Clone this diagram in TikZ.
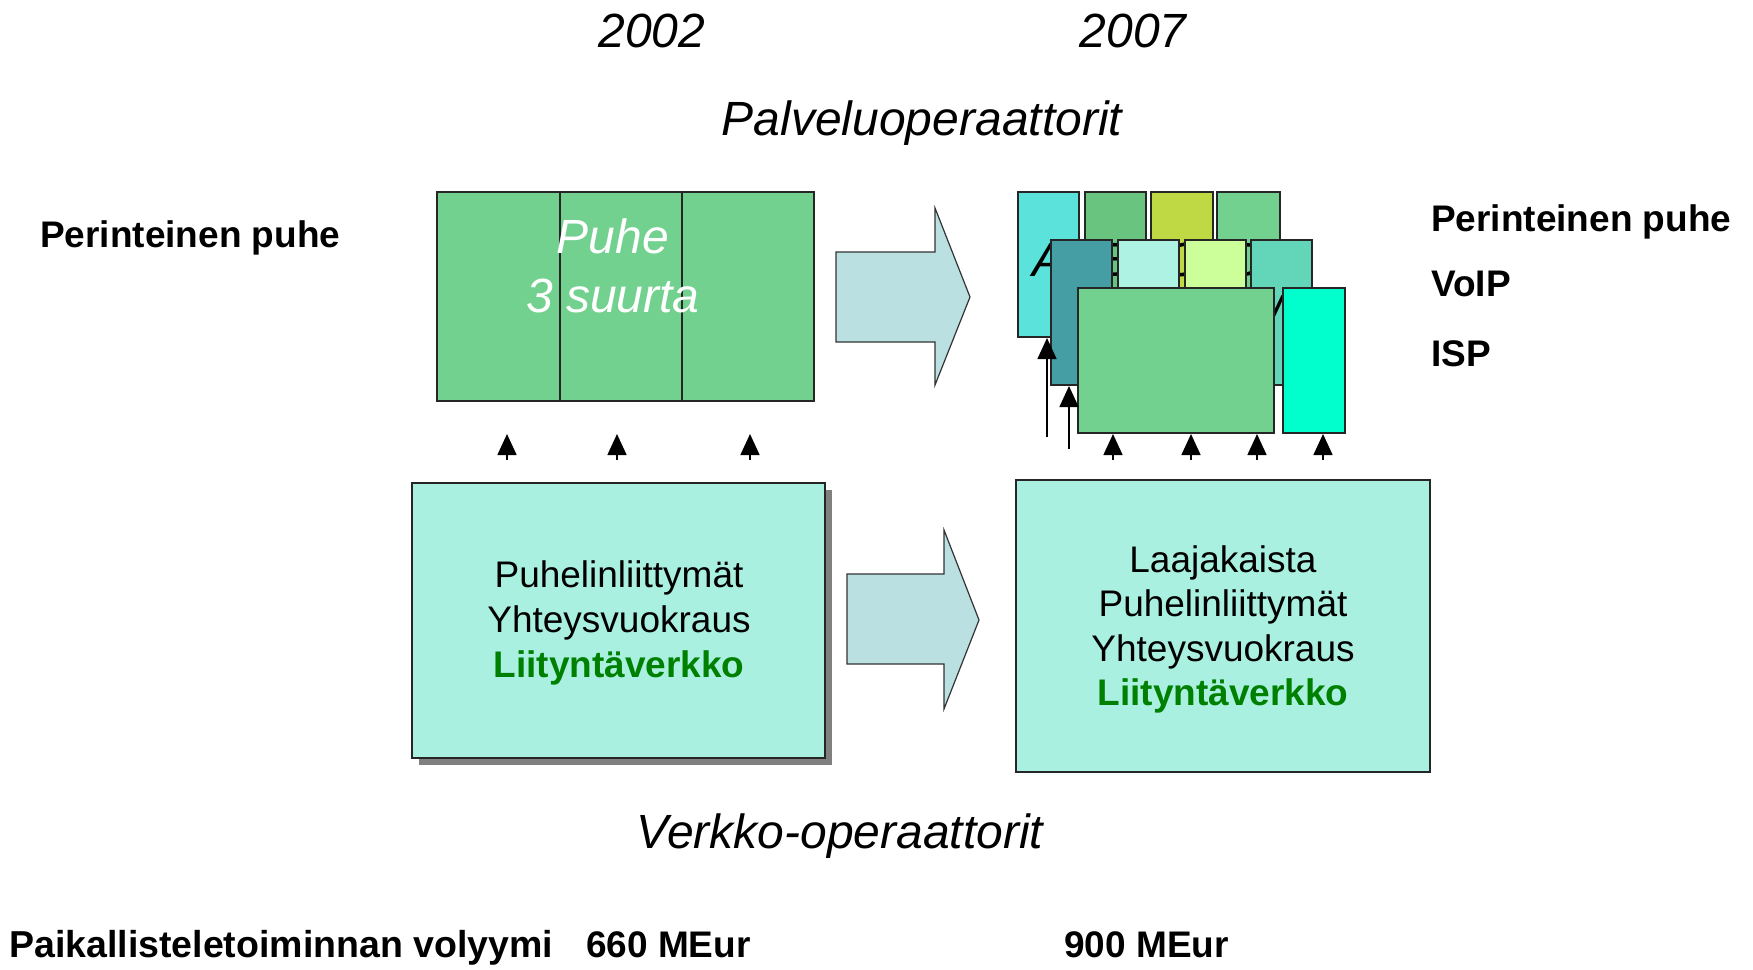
\documentclass[tikz,border=0pt]{standalone}
\usepackage{fontspec}
\setmainfont{Liberation Sans}
\usetikzlibrary{arrows.meta}
\definecolor{cGreen}{HTML}{72D18F}
\definecolor{cPale}{HTML}{AAF0E0}
\definecolor{cArrow}{HTML}{BAE0E2}
\definecolor{cA}{HTML}{5BE3DB}
\definecolor{cB}{HTML}{69C47F}
\definecolor{cC}{HTML}{BFD944}
\definecolor{cE}{HTML}{459EA3}
\definecolor{cF}{HTML}{ADF2E2}
\definecolor{cG}{HTML}{CCFF99}
\definecolor{cH}{HTML}{63D6BA}
\definecolor{cJ}{HTML}{00FFCC}
\definecolor{cText}{HTML}{008000}
\definecolor{cShadow}{HTML}{808080}
\tikzset{
  blk/.style={draw=black!85, line width=1.5pt, anchor=north west, inner sep=0pt, outer sep=0pt},
  big/.style={font=\fontsize{48}{58}\selectfont\itshape, inner sep=0pt, anchor=base},
  lbl/.style={font=\fontsize{37}{45}\selectfont\bfseries, inner sep=0pt, anchor=base west},
  txt/.style={font=\fontsize{37}{45}\selectfont, inner sep=0pt, anchor=base},
  bigarrow/.style={draw=black!80, line width=1.2pt, fill=cArrow},
  uparrow/.style={line width=1.5pt, -{Triangle[width=19pt,length=21pt]}}
}
\begin{document}
\begin{tikzpicture}[x=1pt,y=-1pt]
\useasboundingbox[fill=white] (0,0) rectangle (1753,969);

% headings
\node[big] (y2002) at (652,47) {2002};
\node[big] (y2007) at (1133,47) {2007};
\node[big] (palv) at (922,135) {Palveluoperaattorit};
\node[big] (verk) at (840,848) {Verkko-operaattorit};

% side labels
\node[lbl] (perL) at (40,247) {Perinteinen puhe};
\node[lbl] (perR) at (1431,231.5) {Perinteinen puhe};
\node[lbl] (voip) at (1431,296) {VoIP};
\node[lbl] (isp) at (1431,366) {ISP};

% bottom line
\node[lbl, font=\fontsize{37.5}{45}\selectfont\bfseries] (vol) at (9,957) {Paikallisteletoiminnan volyymi};
\node[lbl] (m660) at (586,957) {660 MEur};
\node[lbl] (m900) at (1064,957) {900 MEur};

% 2002 top: three speech boxes
\node[blk, fill=cGreen, minimum width=135pt, minimum height=209pt] (p1) at (437,192) {};
\node[blk, fill=cGreen, minimum width=134pt, minimum height=209pt] (p2) at (560,192) {};
\node[blk, fill=cGreen, minimum width=132pt, minimum height=209pt] (p3) at (682,192) {};
\node[big, text=white] (puhe1) at (613,253) {Puhe};
\node[big, text=white] (puhe2) at (613,312) {3 suurta};

% top big arrow
\draw[bigarrow] (836,252) -- (935,252) -- (935,208) -- (970,297) -- (935,385) -- (935,342) -- (836,342) -- cycle;

% 2007 top: stacked boxes, back row
\node[blk, fill=cA, minimum width=61pt, minimum height=145pt] (bA) at (1018,192) {};
\node[blk, fill=cB, minimum width=61pt, minimum height=145pt] (bB) at (1085,192) {};
\node[blk, fill=cC, minimum width=62pt, minimum height=145pt] (bC) at (1151,192) {};
\node[blk, fill=cGreen, minimum width=63pt, minimum height=145pt] (bD) at (1217,192) {};
\node[big] (tA) at (1048,276) {A};
\node[big] (tB) at (1115,276) {B};
\node[big] (tC) at (1182,276) {C};
\node[big] (tD) at (1248,276) {D};
% middle row
\node[blk, fill=cE, minimum width=61pt, minimum height=145pt] (bE) at (1051,240) {};
\node[blk, fill=cF, minimum width=61pt, minimum height=145pt] (bF) at (1118,240) {};
\node[blk, fill=cG, minimum width=61pt, minimum height=145pt] (bG) at (1185,240) {};
\node[blk, fill=cH, minimum width=61pt, minimum height=145pt] (bH) at (1251,240) {};
\node[big] (tH) at (1280,328) {W};
% front row
\node[blk, fill=cGreen, minimum width=196pt, minimum height=145pt] (bI) at (1078,288) {};
\node[blk, fill=cJ, minimum width=62pt, minimum height=145pt] (bJ) at (1283,288) {};

% lower left box with shadow
\fill[cShadow] (419,490) rectangle (832,765);
\node[blk, fill=cPale, minimum width=413pt, minimum height=275pt] (netL) at (412,483) {};
\node[txt] (l1) at (619,587) {Puhelinliittymät};
\node[txt] (l2) at (619,632) {Yhteysvuokraus};
\node[txt, font=\fontsize{37}{45}\selectfont\bfseries, text=cText] (l3) at (619,677) {Liityntäverkko};

% lower arrow
\draw[bigarrow] (847,574) -- (944,574) -- (944,530) -- (979,620) -- (944,709) -- (944,664) -- (847,664) -- cycle;

% lower right box
\node[blk, fill=cPale, minimum width=414pt, minimum height=292pt] (netR) at (1016,480) {};
\node[txt] (r1) at (1223,572) {Laajakaista};
\node[txt] (r2) at (1223,616) {Puhelinliittymät};
\node[txt] (r3) at (1223,661) {Yhteysvuokraus};
\node[txt, font=\fontsize{37}{45}\selectfont\bfseries, text=cText] (r4) at (1223,705) {Liityntäverkko};

% small up arrows, 2002
\coordinate (s1) at (507,460); \coordinate (e1) at (507,434);
\coordinate (s2) at (617,460); \coordinate (e2) at (617,434);
\coordinate (s3) at (750,460); \coordinate (e3) at (750,434);
\draw[uparrow] (s1) -- (e1);
\draw[uparrow] (s2) -- (e2);
\draw[uparrow] (s3) -- (e3);

% small up arrows, 2007
\coordinate (s4) at (1113,460); \coordinate (e4) at (1113,434);
\coordinate (s5) at (1191,460); \coordinate (e5) at (1191,434);
\coordinate (s6) at (1257,460); \coordinate (e6) at (1257,434);
\coordinate (s7) at (1323,460); \coordinate (e7) at (1323,434);
\draw[uparrow] (s4) -- (e4);
\draw[uparrow] (s5) -- (e5);
\draw[uparrow] (s6) -- (e6);
\draw[uparrow] (s7) -- (e7);
\coordinate (s8) at (1047,437); \coordinate (e8) at (1047,338);
\coordinate (s9) at (1069,449); \coordinate (e9) at (1069,386);
\draw[uparrow] (s8) -- (e8);
\draw[uparrow] (s9) -- (e9);
\end{tikzpicture}
\end{document}
